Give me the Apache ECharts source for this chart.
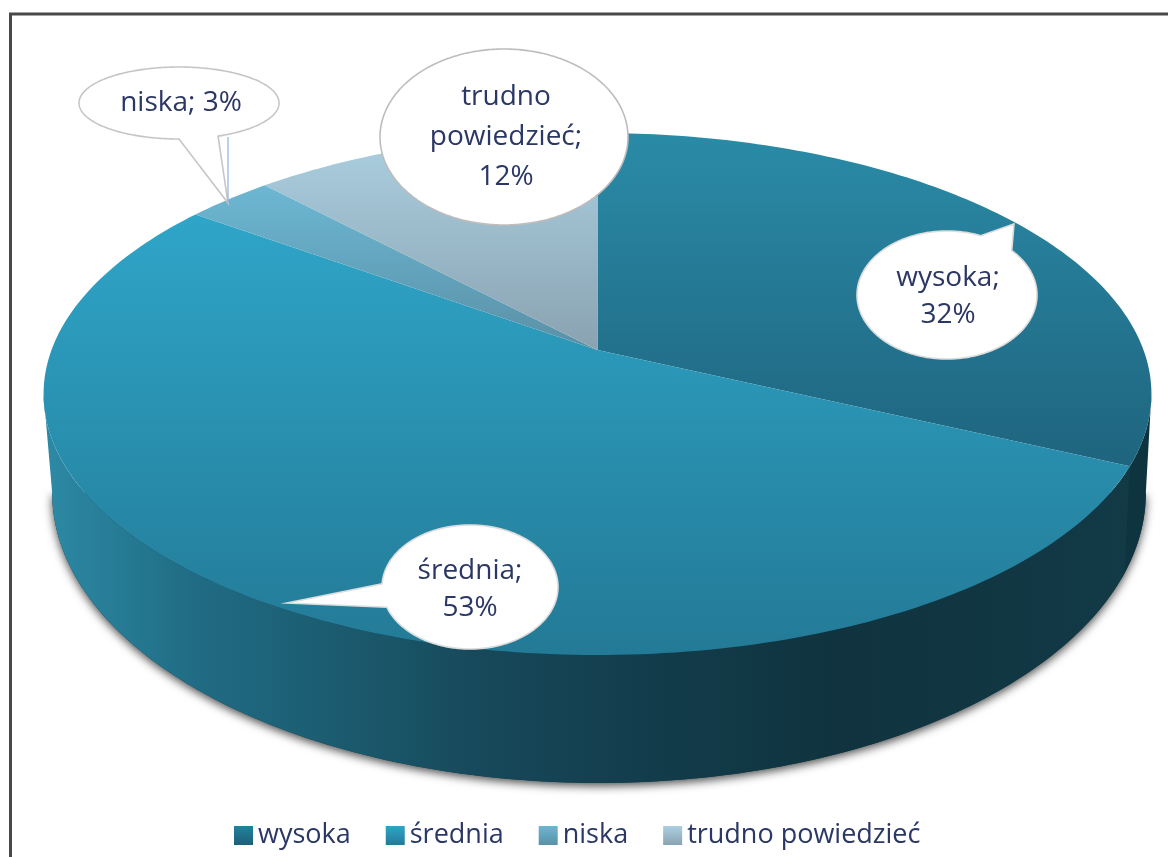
<!DOCTYPE html>
<html>
<head>
<meta charset="utf-8">
<style>
  html, body { margin: 0; padding: 0; background: #fff; }
  #chart { width: 1168px; height: 857px; }
</style>
<script src="https://cdn.jsdelivr.net/npm/echarts@6/dist/echarts.min.js"></script>
</head>
<body>
<div id="chart"></div>
<script>
// dane
const categories = ['wysoka', 'średnia', 'niska', 'trudno powiedzieć'];
const shares = [32, 53, 3, 12];

// kolory kawałków (gradient pionowy, góra/dół)
const faceColors = [
    ['#2a8ba7', '#1f6580'],
    ['#2fa5c8', '#237a96'],
    ['#6cb6d2', '#5a90a6'],
    ['#abd0e1', '#8aa2b1']
];
const legendColors = [
    ['#23829c', '#1d5f78'],
    ['#2fa5c8', '#237a96'],
    ['#6cb6d2', '#5a90a6'],
    ['#abd0e1', '#8aa2b1']
];
const faceRanges = [[133, 457], [215, 655], [190, 350], [133, 350]];

// dymki z etykietami
const callouts = [
    { cx: 947, cy: 295, rx: 90, ry: 64, from: -44, to: 292, tip: [1014, 224], tx: 948, ty: 297, lh: 37, stroke: '#dcdcdc' },
    { cx: 470, cy: 587, rx: 88, ry: 62, from: 183, to: 521, tip: [287, 603], tx: 470, ty: 590, lh: 37, stroke: '#dcdcdc' },
    { cx: 179, cy: 103, rx: 100, ry: 36, from: 90, to: 427, tip: [228, 203], tx: 181, ty: 103, lh: 37, stroke: '#c6c6c6', oneLine: true },
    { cx: 504, cy: 137, rx: 124, ry: 88, from: 0, to: 360, tip: null, tx: 506, ty: 137, lh: 40, stroke: '#bdbdbd' }
];

const FONT = '"Open Sans", sans-serif';
const TEXT_COLOR = '#2b3764';

// rzut koła z perspektywą
const APEX = [597.5, 350];
const PERSP = -0.1686;
const SIDE_RIGHT = 99.7, SIDE_LEFT = 260.3;
function project(deg, ox, oy, c, a) {
    const t = deg * Math.PI / 180;
    const u = Math.sin(t), v = -Math.cos(t);
    const d = 1 + PERSP * v;
    return [ox + c * u / d, oy + a * v / d];
}
const topPoint = deg => project(deg, APEX[0], APEX[1], 546, 253.6);
const bottomPoint = deg => project(deg, 599, 444, 539, 281.8);
function arc(fn, a, b) {
    const pts = [];
    const n = Math.max(2, Math.ceil(Math.abs(b - a)));
    for (let i = 0; i <= n; i++) pts.push(fn(a + (b - a) * i / n));
    return pts;
}

const wallGradient = {
    type: 'linear', global: true, x: 52, y: 0, x2: 1146, y2: 0,
    colorStops: [
        { offset: 0, color: '#2c88a3' },
        { offset: 0.13, color: '#206c84' },
        { offset: 0.27, color: '#1b5a6e' },
        { offset: 0.38, color: '#174a5c' },
        { offset: 0.52, color: '#133e4d' },
        { offset: 0.72, color: '#10333f' },
        { offset: 1, color: '#123a47' }
    ]
};

function wallElement(a, b, fill) {
    const pts = arc(topPoint, a, b).concat(arc(bottomPoint, b, a));
    return { type: 'polygon', z2: 1, shape: { points: pts }, style: { fill: fill }, silent: true };
}

function labelText(i) {
    const name = categories[i];
    if (callouts[i].oneLine) return name + '; ' + shares[i] + '%';
    return name.split(' ').join('\n') + ';\n' + shares[i] + '%';
}

function makeRender(i) {
    return function (params, api) {
        const value = api.value(0);
        const before = shares.slice(0, i).reduce((s, x) => s + x, 0);
        const start = before * 3.6;
        const end = (before + value) * 3.6;
        const children = [];

        // boczna ściana (pierwsza zachodzi pod drugą, żeby nie było szczeliny)
        const wallA = Math.max(start, SIDE_RIGHT), wallB = Math.min(end, SIDE_LEFT);
        if (wallB > wallA) {
            if (i === 0) {
                children.push(wallElement(wallA, wallB + 1, '#0e3440'));
            } else {
                const wall = wallElement(wallA, wallB, wallGradient);
                wall.z2 = 2;
                children.push(wall);
            }
        }
        // cień pod spodem
        if (i === 1) {
            children.push({
                type: 'polygon', z2: 0, silent: true,
                shape: { points: arc(bottomPoint, SIDE_RIGHT, SIDE_LEFT) },
                style: { fill: '#123a47', shadowColor: 'rgba(0,0,0,0.7)', shadowBlur: 10, shadowOffsetX: 0, shadowOffsetY: 3 }
            });
        }
        // górna powierzchnia
        children.push({
            type: 'polygon', z2: 5, silent: true,
            shape: { points: [APEX].concat(arc(topPoint, start, end)) },
            style: {
                fill: {
                    type: 'linear', global: true, x: 0, y: faceRanges[i][0], x2: 0, y2: faceRanges[i][1],
                    colorStops: [
                        { offset: 0, color: faceColors[i][0] },
                        { offset: 1, color: faceColors[i][1] }
                    ]
                }
            }
        });
        // dymek
        const c = callouts[i];
        const outline = arc(d => {
            const r = d * Math.PI / 180;
            return [c.cx + c.rx * Math.cos(r), c.cy + c.ry * Math.sin(r)];
        }, c.from, c.to);
        if (c.tip) outline.push(c.tip);
        children.push({
            type: 'polygon', z2: 10, silent: true,
            shape: { points: outline },
            style: { fill: '#fff', stroke: c.stroke, lineWidth: 1.6 }
        });
        if (i === 2) {
            children.push({
                type: 'line', z2: 11, silent: true,
                shape: { x1: 228, y1: 137, x2: 228, y2: 203 },
                style: { stroke: '#8fb2e2', lineWidth: 1.2 }
            });
        }
        children.push({
            type: 'text', z2: 12, silent: true,
            style: {
                text: labelText(i), x: c.tx, y: c.ty,
                textAlign: 'center', textVerticalAlign: 'middle',
                fill: TEXT_COLOR, font: '28px ' + FONT, lineHeight: c.lh
            }
        });
        return { type: 'group', children: children };
    };
}

const chart = echarts.init(document.getElementById('chart'));
chart.setOption({
    animation: false,
    backgroundColor: '#fff',
    graphic: [{
        type: 'rect', silent: true,
        shape: { x: 10.5, y: 14, width: 1300, height: 1000 },
        style: { fill: 'none', stroke: '#484848', lineWidth: 3 }
    }],
    legend: {
        left: 229, top: 817,
        itemWidth: 19, itemHeight: 19, itemGap: 35,
        textStyle: { fontFamily: FONT, fontSize: 27, color: TEXT_COLOR },
        data: categories.map((name, i) => ({
            name: name,
            icon: 'rect',
            itemStyle: {
                color: {
                    type: 'linear', x: 0, y: 0, x2: 0, y2: 1,
                    colorStops: [
                        { offset: 0, color: legendColors[i][0] },
                        { offset: 1, color: legendColors[i][1] }
                    ]
                }
            }
        }))
    },
    series: categories.map((name, i) => ({
        type: 'custom',
        name: name,
        coordinateSystem: 'none',
        renderItem: makeRender(i),
        data: [[shares[i]]]
    }))
});
</script>
</body>
</html>
